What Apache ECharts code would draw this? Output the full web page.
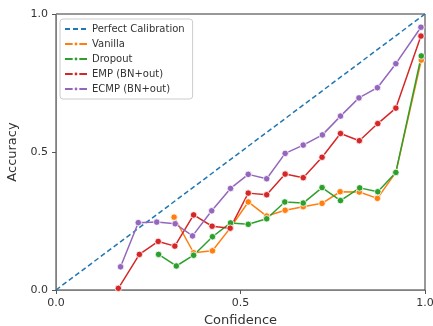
<!DOCTYPE html>
<html><head><meta charset="utf-8">
<script src="https://cdn.jsdelivr.net/npm/echarts@6/dist/echarts.min.js"></script>
<style>html,body{margin:0;padding:0;background:#fff}#c{width:433px;height:326px}</style>
</head><body><div id="c"></div>
<script>
const perfectX = [0, 1];
const perfectY = [0, 1];
const vanillaX = [0.320, 0.373, 0.424, 0.473, 0.521, 0.571, 0.621, 0.670, 0.721, 0.770, 0.822, 0.871, 0.921, 0.990];
const vanillaY = [0.264, 0.135, 0.142, 0.226, 0.319, 0.268, 0.289, 0.302, 0.314, 0.356, 0.355, 0.332, 0.426, 0.833];
const dropoutX = [0.278, 0.326, 0.373, 0.424, 0.473, 0.521, 0.571, 0.620, 0.670, 0.721, 0.771, 0.823, 0.872, 0.921, 0.990];
const dropoutY = [0.129, 0.087, 0.126, 0.193, 0.243, 0.238, 0.258, 0.319, 0.315, 0.371, 0.324, 0.370, 0.356, 0.426, 0.848];
const empX = [0.169, 0.226, 0.277, 0.322, 0.373, 0.423, 0.472, 0.521, 0.571, 0.621, 0.670, 0.721, 0.771, 0.822, 0.872, 0.921, 0.989];
const empY = [0.006, 0.129, 0.176, 0.159, 0.272, 0.231, 0.224, 0.351, 0.345, 0.420, 0.407, 0.481, 0.567, 0.541, 0.603, 0.659, 0.920];
const ecmpX = [0.175, 0.223, 0.273, 0.323, 0.370, 0.422, 0.473, 0.521, 0.571, 0.621, 0.670, 0.722, 0.771, 0.821, 0.871, 0.921, 0.989];
const ecmpY = [0.084, 0.244, 0.246, 0.240, 0.196, 0.287, 0.368, 0.419, 0.403, 0.495, 0.525, 0.562, 0.630, 0.696, 0.733, 0.820, 0.952];
const xTicks = [0, 0.5, 1];
const yTicks = [0, 0.5, 1];

const zip = (xs, ys) => xs.map((x, i) => [x, ys[i]]);
const FONT = 'DejaVu Sans';
function mk(name, xs, ys, color) {
  return {
    name, type: 'line', data: zip(xs, ys),
    symbol: 'circle', symbolSize: 6.5, showSymbol: true,
    lineStyle: { color, width: 1.5 },
    itemStyle: { color, borderColor: '#fff', borderWidth: 0.8 },
    emphasis: { disabled: true }, animation: false, clip: true
  };
}
const axisCommon = {
  type: 'value', min: 0, max: 1, interval: 0.5,
  axisLine: { show: true, lineStyle: { color: '#808080', width: 1 } },
  axisTick: { show: true, length: 4, lineStyle: { color: '#555' } },
  splitLine: { show: false },
  axisLabel: { fontFamily: FONT, fontSize: 11, color: '#333', formatter: v => v.toFixed(1) },
  nameLocation: 'middle',
  nameTextStyle: { fontFamily: FONT, fontSize: 13, color: '#333' }
};
const chart = echarts.init(document.getElementById('c'), null, { renderer: 'canvas' });
chart.setOption({
  animation: false,
  grid: { left: 56, right: 8, top: 14, bottom: 36, show: true, borderColor: '#333', borderWidth: 1,
          backgroundColor: 'transparent', containLabel: false, outerBoundsMode: 'none' },
  xAxis: Object.assign({}, axisCommon, { name: 'Confidence', nameGap: 20 }),
  yAxis: Object.assign({}, axisCommon, { name: 'Accuracy', nameGap: 27 }),
  legend: {
    orient: 'vertical', left: 60, top: 19,
    padding: [4, 8, 4, 4], itemGap: 3, itemWidth: 22, itemHeight: 6,
    backgroundColor: 'rgba(255,255,255,0.8)', borderColor: '#ccc', borderWidth: 1, borderRadius: 3,
    textStyle: { fontFamily: FONT, fontSize: 10, color: '#333', lineHeight: 12 },
    data: [{ name: 'Perfect Calibration', itemStyle: { opacity: 0 } }, 'Vanilla', 'Dropout', 'EMP (BN+out)', 'ECMP (BN+out)']
  },
  series: [
    { name: 'Perfect Calibration', type: 'line', data: zip(perfectX, perfectY), symbol: 'none',
      lineStyle: { color: '#1f77b4', width: 1.5, type: [5, 3] }, itemStyle: { color: '#1f77b4' }, emphasis: { disabled: true } },
    mk('Vanilla', vanillaX, vanillaY, '#ff7f0e'),
    mk('Dropout', dropoutX, dropoutY, '#2ca02c'),
    mk('EMP (BN+out)', empX, empY, '#d62728'),
    mk('ECMP (BN+out)', ecmpX, ecmpY, '#9467bd')
  ]
});
</script></body></html>
